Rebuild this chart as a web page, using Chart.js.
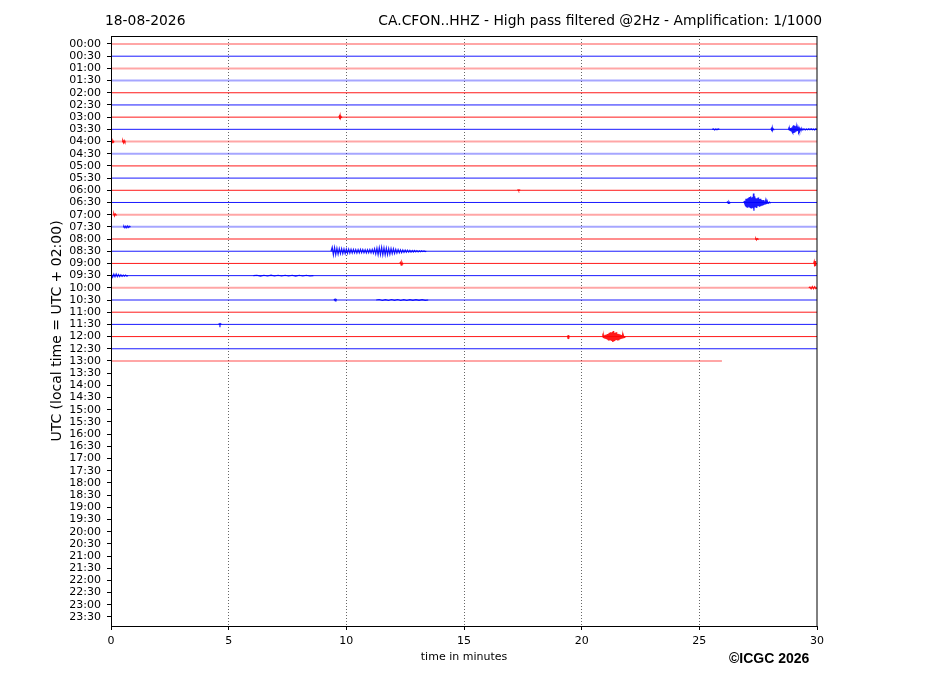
<!DOCTYPE html>
<html><head><meta charset="utf-8">
<script src="https://cdn.jsdelivr.net/npm/chart.js@4"></script>
<style>html,body{margin:0;padding:0;background:#fff;}#wrap{width:927px;height:696px;}</style>
</head><body><div id="wrap"><canvas id="c" width="927" height="696"></canvas></div>
<script>
// ---- DATA ----
const rowLabels = ["00:00","00:30","01:00","01:30","02:00","02:30","03:00","03:30","04:00","04:30","05:00","05:30",
  "06:00","06:30","07:00","07:30","08:00","08:30","09:00","09:30","10:00","10:30","11:00","11:30",
  "12:00","12:30","13:00","13:30","14:00","14:30","15:00","15:30","16:00","16:30","17:00","17:30",
  "18:00","18:30","19:00","19:30","20:00","20:30","21:00","21:30","22:00","22:30","23:00","23:30"];
const xTicks = [0,5,10,15,20,25,30];
// minutes of data recorded in each half-hour row (rows 00:00 .. 13:00)
const rowEnd = [30,30,30,30,30,30,30,30,30,30,30,30,30,30,30,30,30,30,30,30,30,30,30,30,30,30,25.96];
// background noise level of each row (0 quiet, 1 noisy)
const rowNoise = [1,0,1,1,0,0,0,0,1,1,0,0,0,0,1,1,0.5,0,0,0,1,0.5,0,0,0,0,1];

// events: signed trace amplitudes (in row units), sampled every eventStep minutes from eventStart
const ev0330main = [0.03,-0.05,0.06,-0.08,0.1,-0.12,0.15,-0.2,0.25,-0.3,0.33,-0.3,0.28,-0.25,0.22,-0.2,0.18,-0.15,0.13,-0.12,0.1,-0.09,0.08,-0.07,0.06,-0.06,0.05,-0.05,0.04,-0.04];
const ev0330spike = [0.06,-0.15,0.14,-0.06,0.03];
const ev0330tail = [0.04,-0.05,0.03,-0.04,0.05,-0.03,0.04,-0.04,0.03,-0.05,0.04,-0.03];
const ev0330pre = [0.04,-0.05,0.03,-0.04,0.03];
const ev0630main = [0.05,-0.1,0.15,-0.25,0.3,-0.35,0.3,-0.38,0.35,-0.3,
  0.4,-0.35,0.45,-0.4,0.5,-0.45,0.4,-0.35,0.45,-0.4,
  0.74,-0.68,0.5,-0.4,0.35,-0.4,0.3,-0.45,0.35,-0.3,
  0.4,-0.3,0.28,-0.35,0.25,-0.3,0.3,-0.22,0.2,-0.2,
  0.18,-0.15,0.2,-0.12,0.1,-0.12,0.08,-0.08,0.07,-0.06,
  0.05,-0.05,0.04,-0.03,0.03];
const ev0630pre = [0.05,-0.08,0.06,-0.04];
const ev0830main = [0.33,-0.3,0.3,-0.28,0.25,-0.25,0.22,-0.2,0.22,-0.2,
  0.18,-0.2,0.18,-0.16,0.18,-0.15,0.16,-0.15,0.15,-0.14,
  0.14,-0.15,0.13,-0.14,0.15,-0.12,0.14,-0.13,0.12,-0.14,
  0.13,-0.12,0.14,-0.13,0.15,-0.16,0.2,-0.22,0.25,-0.28,
  0.3,-0.28,0.32,-0.3,0.28,-0.3,0.25,-0.28,0.22,-0.25,
  0.22,-0.2,0.2,-0.18,0.16,-0.15,0.14,-0.13,0.12,-0.12,
  0.1,-0.1,0.09,-0.09,0.08,-0.08,0.07,-0.07,0.06,-0.06,
  0.06,-0.05,0.05,-0.05,0.04,-0.04,0.04,-0.03,0.03,-0.03];
const ev1200main = [0.05,-0.06,0.08,-0.1,0.1,-0.12,0.15,-0.15,0.18,-0.2,
  0.22,-0.25,0.25,-0.28,0.3,-0.3,0.35,-0.32,0.3,-0.35,
  0.38,-0.45,0.45,-0.4,0.32,-0.35,0.3,-0.3,0.35,-0.28,
  0.25,-0.28,0.22,-0.25,0.2,-0.18,0.18,-0.15,0.15,-0.12,
  0.12,-0.1,0.1,-0.08,0.06,-0.06,0.05,-0.04];
const ev1200pre = [0.08,-0.15,0.14,-0.08];
const ev0300 = [0.08,-0.16,0.14,-0.06,0.03];
const ev0400a = [0.08,-0.1,0.07,-0.05];
const ev0400b = [0.07,-0.1,0.08,-0.05];
const ev0700 = [0.08,-0.1,0.06];
const ev0730 = [0.05,-0.08,0.06,-0.07,0.08,-0.05,0.04];
const ev0900a = [0.08,-0.14,0.1,-0.05];
const ev0900b = [0.15,-0.25,0.2,-0.2];
const ev0930a = [0.1,-0.13,0.12,-0.1,0.13,-0.08,0.1,-0.08,0.07,-0.06,0.05,-0.05,0.04,-0.04];
const ev0930b = [0.03,-0.04,0.03,-0.03,0.04,-0.03,0.03,-0.03,0.03,-0.03,0.03,-0.04,0.03,-0.03,0.03,-0.03];
const ev1000 = [0.06,-0.08,0.1,-0.08,0.1,-0.06];
const ev1030a = [0.05,-0.07,0.05];
const ev1030b = [0.04,-0.04,0.03,-0.04,0.04,-0.03,0.04,-0.04,0.03,-0.04,0.03,-0.03,0.03,-0.03,0.03,-0.03];
const ev1130 = [0.05,-0.07,0.05];
const ev0800 = [0.05,-0.07,0.04];
const ev0600 = [0.04,-0.05,0.03];

const eventRow   = [7,7,7,7,13,13,17,24,24,6,8,8,14,15,18,18,19,19,20,21,21,23,16,12];
const eventStart = [28.8,28.06,29.45,25.6,26.9,26.2,9.4,20.9,19.4,9.7,0.02,0.5,0.12,0.55,12.3,29.88,0.02,6.2,29.7,9.5,11.4,4.6,27.4,17.3];
const eventStep  = [0.02,0.02,0.05,0.05,0.02,0.03,0.05,0.02,0.02,0.02,0.03,0.03,0.03,0.04,0.03,0.02,0.05,0.15,0.05,0.03,0.13,0.03,0.03,0.03];
const eventValues = [ev0330main,ev0330spike,ev0330tail,ev0330pre,ev0630main,ev0630pre,ev0830main,ev1200main,ev1200pre,
  ev0300,ev0400a,ev0400b,ev0700,ev0730,ev0900a,ev0900b,ev0930a,ev0930b,ev1000,ev1030a,ev1030b,ev1130,ev0800,ev0600];

// ---- BUILD ----
function rowColor(r, a){ return r % 2 === 0 ? `rgba(255,0,0,${a})` : `rgba(0,0,255,${a})`; }
const datasets = [];
for (let r = 0; r < rowEnd.length; r++) {
  const n = rowNoise[r];
  datasets.push({
    data: [{x:0,y:r},{x:rowEnd[r],y:r}],
    borderColor: rowColor(r, n >= 1 ? 0.35 : (n > 0 ? 0.6 : 0.9)),
    borderWidth: n >= 1 ? 2 : (n > 0 ? 1.5 : 1),
    pointRadius: 0, tension: 0, fill: false
  });
}
for (let e = 0; e < eventValues.length; e++) {
  const r = eventRow[e], s = eventStart[e], st = eventStep[e], vals = eventValues[e];
  const pts = [{x: s - st, y: r}];
  vals.forEach((v, i) => pts.push({x: s + i * st, y: r - v}));
  pts.push({x: s + vals.length * st, y: r});
  datasets.push({ data: pts, borderColor: rowColor(r, 0.9), borderWidth: 1.2, pointRadius: 0, tension: 0, fill: false });
}

const textPlugin = {
  id: 'texts',
  afterDraw(chart) {
    const ctx = chart.ctx, a = chart.chartArea;
    ctx.save();
    ctx.strokeStyle = '#000'; ctx.lineWidth = 1;
    ctx.strokeRect(Math.round(a.left) + 0.5, Math.round(a.top) + 0.5, Math.round(a.right - a.left) - 0.5, Math.round(a.bottom - a.top));
    ctx.fillStyle = '#000';
    ctx.font = '13.85px "DejaVu Sans"';
    ctx.textBaseline = 'alphabetic';
    ctx.textAlign = 'left';
    ctx.fillText('18-08-2026', 105, 25);
    ctx.textAlign = 'right';
    ctx.fillText('CA.CFON..HHZ - High pass filtered @2Hz - Amplification: 1/1000', 822, 25);
    ctx.font = '11px "DejaVu Sans"';
    ctx.textAlign = 'center';
    ctx.fillText('time in minutes', (a.left + a.right) / 2, 660);
    ctx.font = 'bold 14px "Liberation Sans"';
    ctx.textAlign = 'left';
    ctx.fillText('\u00A9ICGC 2026', 729, 663);
    ctx.translate(57, (a.top + a.bottom) / 2);
    ctx.rotate(-Math.PI / 2);
    ctx.font = '14px "DejaVu Sans"';
    ctx.textAlign = 'center';
    ctx.textBaseline = 'middle';
    ctx.fillText('UTC (local time = UTC + 02:00)', 0, 0);
    ctx.restore();
  }
};

new Chart(document.getElementById('c'), {
  type: 'line',
  data: { datasets },
  options: {
    responsive: false, animation: false, events: [],
    layout: { padding: { left: 0, top: 36, right: 110, bottom: 0 } },
    plugins: { legend: { display: false }, tooltip: { enabled: false } },
    scales: {
      x: {
        type: 'linear', min: 0, max: 30,
        afterFit(s) { s.height = 70; },
        afterBuildTicks(s) { s.ticks = xTicks.map(v => ({ value: v })); },
        ticks: { color: '#000', font: { family: 'DejaVu Sans', size: 11 }, padding: 5, maxRotation: 0, autoSkip: false },
        grid: { color: c => (c.tick && (c.tick.value === 0 || c.tick.value === 30)) ? 'rgba(0,0,0,0)' : 'rgba(0,0,0,0.75)',
                lineWidth: 0.8, tickLength: 4, tickColor: '#000', tickWidth: 1, tickBorderDash: [] },
        border: { display: true, color: '#000', width: 1, dash: [1, 2] }
      },
      y: {
        type: 'linear', reverse: true, min: -0.656, max: 47.74,
        afterFit(s) { s.width = 111; },
        afterBuildTicks(s) { s.ticks = rowLabels.map((_, i) => ({ value: i })); },
        ticks: { color: '#000', font: { family: 'DejaVu Sans', size: 11 }, padding: 6, autoSkip: false, callback: v => rowLabels[v] },
        grid: { drawOnChartArea: false, tickLength: 4, tickColor: '#000', tickWidth: 1 },
        border: { display: true, color: '#000', width: 1 }
      }
    }
  },
  plugins: [textPlugin]
});
</script></body></html>
